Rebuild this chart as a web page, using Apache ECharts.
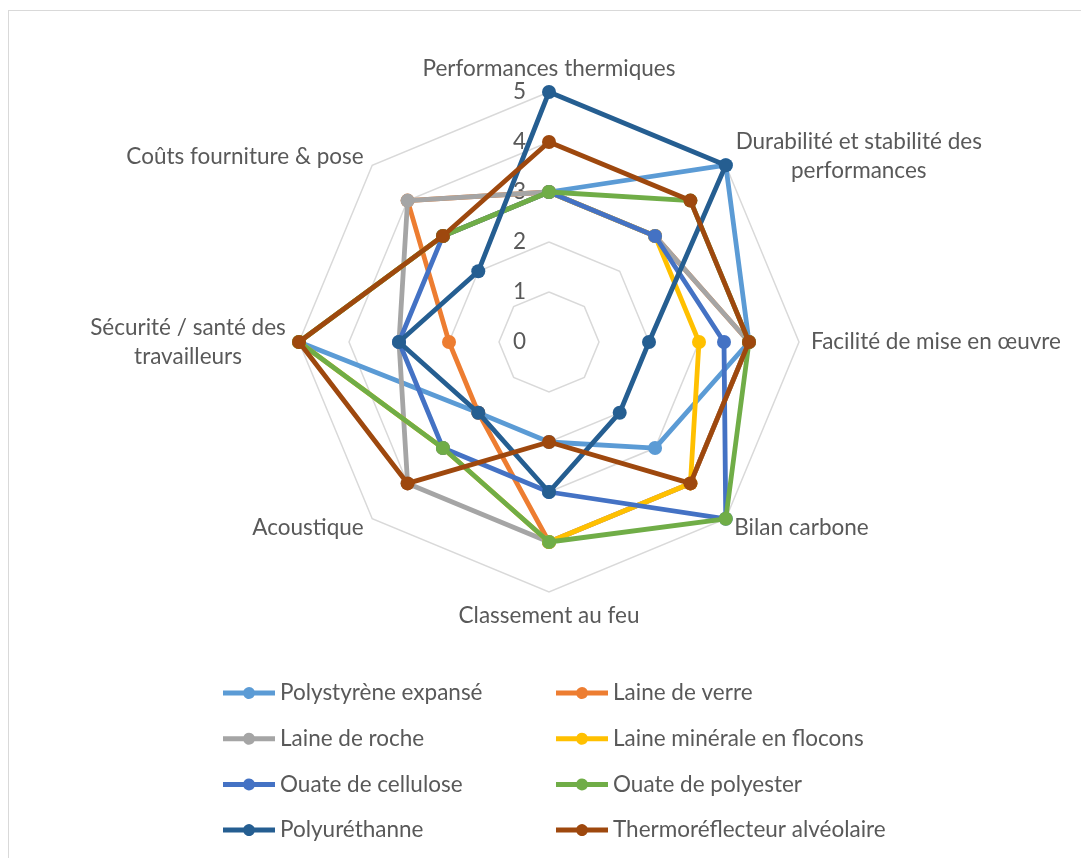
<!DOCTYPE html>
<html>
<head>
<meta charset="utf-8">
<script src="https://cdn.jsdelivr.net/npm/echarts@6/dist/echarts.min.js"></script>
<style>
html, body { margin:0; padding:0; background:#fff; overflow:hidden; }
#frame { position:absolute; left:8px; top:10px; width:1200px; height:1000px; border-left:1.5px solid #D9D9D9; border-top:1.5px solid #D9D9D9; box-sizing:border-box; }
#chart { position:absolute; left:0; top:0; width:1081px; height:858px; }
</style>
</head>
<body>
<div id="frame"></div>
<div id="chart"></div>
<script>
// Axes in clockwise order starting at the top
const categories = [
  'Performances thermiques',
  'Durabilité et stabilité des\nperformances',
  'Facilité de mise en œuvre',
  'Bilan carbone',
  'Classement au feu',
  'Acoustique',
  'Sécurité / santé des\ntravailleurs',
  'Coûts fourniture & pose'
];
const tickLabels = ['0', '1', '2', '3', '4', '5'];
const seriesNames = [
  'Polystyrène expansé', 'Laine de verre', 'Laine de roche', 'Laine minérale en flocons',
  'Ouate de cellulose', 'Ouate de polyester', 'Polyuréthanne', 'Thermoréflecteur alvéolaire'
];
const polystyrene      = [3, 5, 4,   3, 2, 2, 5, 3];
const laineVerre       = [3, 3, 4,   4, 4, 2, 2, 4];
const laineRoche       = [3, 3, 4,   4, 4, 4, 3, 4];
const laineMinerale    = [3, 3, 3,   4, 4, 3, 5, 3];
const ouateCellulose   = [3, 3, 3.5, 5, 3, 3, 3, 3];
const ouatePolyester   = [3, 4, 4,   5, 4, 3, 5, 3];
const polyurethanne    = [5, 5, 2,   2, 3, 2, 3, 2];
const thermoreflecteur = [4, 4, 4,   4, 2, 4, 5, 3];
const seriesValues = [polystyrene, laineVerre, laineRoche, laineMinerale,
  ouateCellulose, ouatePolyester, polyurethanne, thermoreflecteur];
const colors = ['#5B9BD5', '#ED7D31', '#A5A5A5', '#FFC000', '#4472C4', '#70AD47', '#255E91', '#9E480E'];

const FONT = 'Lato';
const FS = 22.5;
const TXT = '#595959';

// ECharts radar goes counter-clockwise; reorder to draw clockwise
const order = [0, 7, 6, 5, 4, 3, 2, 1];

// Rich styles so that wrapped names have centred lines
const ctx = document.createElement('canvas').getContext('2d');
ctx.font = FS + 'px ' + FONT;
const rich = {};
categories.forEach((name, i) => {
  if (name.indexOf('\n') < 0) return;
  const lines = name.split('\n');
  const w = Math.ceil(Math.max.apply(null, lines.map(l => ctx.measureText(l).width))) + 2;
  rich['c' + i] = { color: TXT, fontSize: FS, fontFamily: FONT, align: 'center', width: w, lineHeight: 29 };
});
function fmtName(name) {
  const i = categories.indexOf(name);
  if (name.indexOf('\n') < 0) return name;
  return name.split('\n').map(l => '{c' + i + '|' + l + '}').join('\n');
}

const indicators = order.map((i, k) => {
  const ind = { name: categories[i], min: 0, max: 5 };
  if (k === 0) {
    ind.axisLabel = { show: true, color: TXT, fontSize: FS, fontFamily: FONT, margin: 23,
      formatter: v => tickLabels[Math.round(v)] };
  }
  return ind;
});

const iconPath = 'path://M0,3.5L20.55,3.5A6,6 0 0 1 31.45,3.5L52,3.5L52,8.5L31.45,8.5A6,6 0 0 1 20.55,8.5L0,8.5Z';

const series = seriesNames.map((n, s) => ({
  type: 'radar',
  name: n,
  symbol: 'circle',
  symbolSize: 14,
  z: 2 + s * 0.01,
  itemStyle: { color: colors[s] },
  lineStyle: { color: colors[s], width: 4.8 },
  data: [{ name: n, value: order.map(i => seriesValues[s][i]) }]
}));

function legendFor(idxs, left) {
  return {
    orient: 'vertical',
    left: left,
    top: 676,
    itemWidth: 52,
    itemHeight: 12,
    itemGap: 21.7,
    icon: iconPath,
    itemStyle: { borderWidth: 0 },
    textStyle: { color: TXT, fontSize: FS, fontFamily: FONT, lineHeight: 24 },
    data: idxs.map(i => seriesNames[i])
  };
}

const chart = echarts.init(document.getElementById('chart'), null, { renderer: 'canvas' });
chart.setOption({
  backgroundColor: 'transparent',
  animation: false,
  color: colors,
  textStyle: { fontFamily: FONT },
  legend: [legendFor([0, 2, 4, 6], 218), legendFor([1, 3, 5, 7], 551)],
  radar: {
    center: [549, 342],
    radius: 250,
    shape: 'polygon',
    splitNumber: 5,
    nameGap: 12,
    axisName: {
      color: TXT, fontSize: FS, fontFamily: FONT,
      formatter: function (name) { return fmtName(name); },
      rich: rich
    },
    axisLine: { show: false },
    axisTick: { show: false },
    axisLabel: { show: false },
    splitLine: { lineStyle: { color: '#D9D9D9', width: 1.5 } },
    splitArea: { show: false },
    indicator: indicators
  },
  series: series
});
</script>
</body>
</html>
